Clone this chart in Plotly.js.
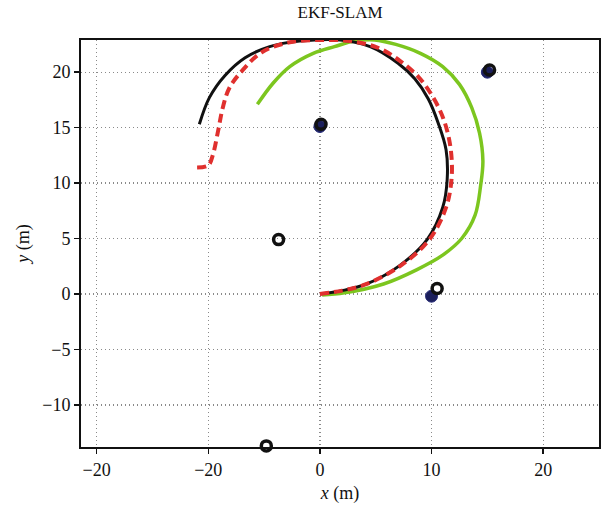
<!DOCTYPE html>
<html>
<head>
<meta charset="utf-8">
<script src="https://cdn.plot.ly/plotly-3.0.1.min.js"></script>
<style>html,body{margin:0;padding:0;background:#fff;}#chart{width:604px;height:513px;}</style>
</head>
<body>
<div id="chart"></div>
<script>
// True path (black)
const trueX = [0, 2.0, 4.2, 7.2, 9.6, 11.0, 11.4, 11.3, 10.6, 9.7, 8.5, 7.0, 4.5, 1.8, -1.8, -4.5, -6.7, -8.5, -9.9, -10.8];
const trueY = [0, 0.3, 0.9, 2.6, 4.9, 7.8, 10.3, 13.0, 15.4, 17.6, 19.4, 20.8, 22.3, 22.9, 22.8, 22.3, 21.3, 19.7, 17.7, 15.3];

// EKF estimate (red dashed)
const ekfX = [0, 2.0, 4.2, 7.3, 9.8, 11.3, 11.8, 11.7, 11.1, 10.1, 8.8, 7.2, 5.2, 2.7, 0, -2.7, -5.2, -6.9, -8.1, -8.7, -9.1, -9.6, -10.0, -11.1];
const ekfY = [0, 0.3, 0.9, 2.6, 4.9, 7.8, 10.5, 13.2, 15.7, 17.8, 19.6, 21.0, 22.2, 22.8, 22.9, 22.7, 21.8, 20.2, 18.6, 16.8, 14.8, 12.5, 11.6, 11.4];

// Odometry (green)
const odoX = [0.2, 2.2, 5.7, 8.7, 11.0, 12.7, 13.9, 14.4, 14.6, 14.3, 13.6, 12.5, 11.0, 9.0, 6.8, 4.9, 3.1, 1.3, -0.6, -2.7, -4.2, -5.6];
const odoY = [-0.1, 0.1, 0.9, 2.2, 3.5, 5.0, 7.1, 9.8, 12.0, 14.5, 16.8, 18.9, 20.5, 21.7, 22.5, 22.9, 22.8, 22.3, 21.7, 20.5, 19.0, 17.1];

// True landmarks (black rings)
const lmX = [0.1, 15.2, -3.7, 10.5, -4.8];
const lmY = [15.3, 20.2, 4.9, 0.5, -13.7];

// Estimated landmarks (navy dots)
const estX = [0.0, 15.0, 10.0];
const estY = [15.1, 20.0, -0.2];

// Axis ticks
const xTickVals = [-20, -10, 0, 10, 20];
const xTickText = ['\u221220', '\u221220', '0', '10', '20'];
const yTickVals = [-10, -5, 0, 5, 10, 15, 20];

const font = {family: '"Liberation Serif", "DejaVu Serif", serif', color: '#111'};

const traces = [
  {x: odoX, y: odoY, mode: 'lines', line: {color: '#7cc61f', width: 3.5, shape: 'spline'}, hoverinfo: 'skip'},
  {x: trueX, y: trueY, mode: 'lines', line: {color: '#111111', width: 3, shape: 'spline'}, hoverinfo: 'skip'},
  {x: ekfX, y: ekfY, mode: 'lines', line: {color: '#e0302e', width: 4, dash: '9px,5px', shape: 'spline'}, hoverinfo: 'skip'},
  {x: estX, y: estY, mode: 'markers', marker: {symbol: 'circle', size: 12, color: '#1c1f5c', line: {width: 1, color: '#2a2f7a'}}, hoverinfo: 'skip', cliponaxis: false},
  {x: lmX, y: lmY, mode: 'markers', marker: {symbol: 'circle-open', size: 10, color: '#111', line: {width: 3.5, color: '#111'}}, hoverinfo: 'skip', cliponaxis: false}
];

const layout = {
  width: 604, height: 513,
  margin: {l: 81, r: 5, t: 40, b: 66},
  paper_bgcolor: '#fff', plot_bgcolor: '#fff',
  showlegend: false,
  title: {text: 'EKF-SLAM', font: Object.assign({size: 17}, font), x: 0.563, xanchor: 'center', y: 0.977, yanchor: 'middle', yref: 'container'},
  xaxis: {
    range: [-21.4, 25.0], tickvals: xTickVals, ticktext: xTickText,
    showgrid: true, gridcolor: '#8a8a8a', griddash: '1px,3px', gridwidth: 1.3,
    zeroline: false, showline: true, linecolor: '#111', linewidth: 2, mirror: true,
    ticks: 'outside', ticklen: 5, tickcolor: '#111', tickwidth: 1.5,
    tickfont: Object.assign({size: 18}, font),
    title: {text: '<i>x</i> (m)', font: Object.assign({size: 18}, font), standoff: 8}
  },
  yaxis: {
    range: [-13.8, 22.9], tickvals: yTickVals, ticktext: yTickVals.map(v => v < 0 ? '\u2212' + Math.abs(v) : String(v)),
    showgrid: true, gridcolor: '#8a8a8a', griddash: '1px,3px', gridwidth: 1.3,
    zeroline: false, showline: true, linecolor: '#111', linewidth: 2, mirror: true,
    ticks: 'outside', ticklen: 5, tickcolor: '#111', tickwidth: 1.5,
    tickfont: Object.assign({size: 18}, font),
    title: {text: '<i>y</i> (m)', font: Object.assign({size: 18}, font), standoff: 8}
  }
};

Plotly.newPlot('chart', traces, layout, {displayModeBar: false, staticPlot: true});
</script>
</body>
</html>
